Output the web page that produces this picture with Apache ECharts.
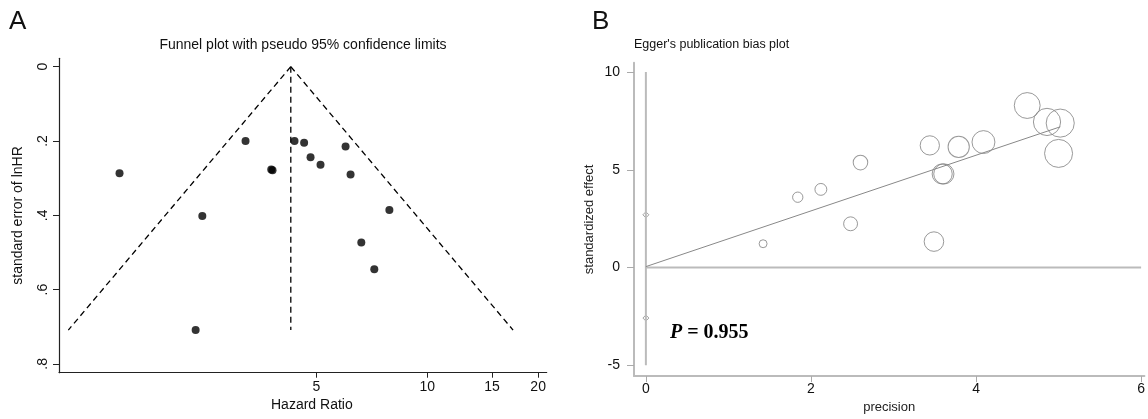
<!DOCTYPE html>
<html>
<head>
<meta charset="utf-8">
<script src="https://cdn.jsdelivr.net/npm/echarts@6/dist/echarts.min.js"></script>
<style>
  html, body { margin: 0; padding: 0; background: #fff; }
  #chart { width: 1148px; height: 419px; }
</style>
</head>
<body>
<div id="chart"></div>
<script>
// panel A - funnel plot (hazard ratio vs standard error of lnHR)
var hazardRatio = [1.46, 3.21, 3.77, 3.80, 4.36, 4.63, 4.82, 5.13, 6.00, 6.19, 7.89, 2.45, 6.62, 7.18, 2.35];
var seLnHR      = [0.287, 0.200, 0.277, 0.279, 0.200, 0.205, 0.244, 0.264, 0.215, 0.290, 0.386, 0.402, 0.473, 0.545, 0.709];
var funnelSe      = [0, 0.709];
var funnelLeftHR  = [4.26, 1.06];
var funnelRightHR = [4.26, 17.1];
var pooledHR      = [4.26, 4.26];
var hrTicks = [5, 10, 15, 20];
var seTicks = [0, 0.2, 0.4, 0.6, 0.8];

// panel B - Egger's plot
var precision = [3.49, 5.00, 3.61, 3.59, 5.02, 4.86, 4.09, 3.79, 4.62, 3.44, 2.60, 2.48, 2.12, 1.84, 1.42];
var stdEffect = [1.33, 5.84, 4.79, 4.79, 7.39, 7.45, 6.42, 6.17, 8.29, 6.25, 5.37, 2.24, 4.00, 3.60, 1.22];
var regX = [0, 5.02];
var regY = [0.05, 7.2];
var ciX = [0, 0];
var ciY = [2.7, -2.58];
var ciLineY = [10, -5];
var zeroX = [0, 6];
var zeroY = [0, 0];
var precTicks = [0, 2, 4, 6];
var effTicks = [-5, 0, 5, 10];

var FONT = 'Liberation Sans';
var chart = echarts.init(document.getElementById('chart'));

function pairs(xs, ys) {
    return xs.map(function (x, i) { return [x, ys[i]]; });
}
function lnPairs(hrs, ses) {
    return hrs.map(function (h, i) { return [Math.log(h), ses[i]]; });
}
function dashed(data) {
    return {
        type: 'line', xAxisIndex: 0, yAxisIndex: 0, data: data,
        symbol: 'none', silent: true,
        lineStyle: { color: '#000', width: 1.3, type: [6, 4] }
    };
}

var option = {
    animation: false,
    textStyle: { fontFamily: FONT },
    graphic: [
        { type: 'text', style: { text: 'A', x: 9, y: 22, verticalAlign: 'middle', font: '26px ' + FONT, fill: '#111' } },
        { type: 'text', style: { text: 'B', x: 592, y: 22, verticalAlign: 'middle', font: '26px ' + FONT, fill: '#111' } },
        { type: 'text', style: { text: 'Funnel plot with pseudo 95% confidence limits', x: 303, y: 45, align: 'center', verticalAlign: 'middle', font: '14px ' + FONT, fill: '#111' } },
        { type: 'text', style: { text: "Egger's publication bias plot", x: 634, y: 45, verticalAlign: 'middle', font: '12.5px ' + FONT, fill: '#111' } },
        { type: 'text', style: {
            text: '{p|P}{n| = 0.955}', x: 670, y: 333, verticalAlign: 'middle',
            rich: {
                p: { fontFamily: 'Liberation Serif', fontSize: 20, fontStyle: 'italic', fontWeight: 'bold', fill: '#000' },
                n: { fontFamily: 'Liberation Serif', fontSize: 20, fontWeight: 'bold', fill: '#000' }
            }
        } }
    ],
    grid: [
        { left: 59, top: 58.3, width: 487.7, height: 314.4 },
        { left: 634, top: 62.7, width: 514, height: 320 }
    ],
    xAxis: [
        {
            gridIndex: 0, type: 'value', min: 0, max: Math.log(21.1),
            name: 'Hazard Ratio', nameLocation: 'middle', nameGap: 24,
            nameTextStyle: { fontSize: 14, color: '#111', padding: [0, 0, 0, 18] },
            axisLine: { onZero: false, lineStyle: { color: '#222', width: 1.2 } },
            axisTick: { length: 5, lineStyle: { color: '#222' }, customValues: hrTicks.map(Math.log) },
            axisLabel: {
                fontSize: 14, color: '#111', margin: 7,
                customValues: hrTicks.map(Math.log),
                formatter: function (v) { return String(Math.round(Math.exp(v))); }
            },
            splitLine: { show: false }
        },
        {
            gridIndex: 1, type: 'value', min: -0.144, max: 6.04,
            name: 'precision', nameLocation: 'middle', nameGap: 20,
            nameTextStyle: { fontSize: 13, color: '#222' },
            axisLine: { onZero: false, lineStyle: { color: '#bbb', width: 2 } },
            axisTick: { length: 6, lineStyle: { color: '#aaa' }, customValues: precTicks },
            axisLabel: { fontSize: 14, color: '#111', margin: 6, customValues: precTicks },
            splitLine: { show: false }
        }
    ],
    yAxis: [
        {
            gridIndex: 0, type: 'value', inverse: true, min: -0.0226, max: 0.8237,
            name: 'standard error of lnHR', nameLocation: 'middle', nameGap: 34,
            nameTextStyle: { fontSize: 14, color: '#111' },
            axisLine: { show: true, onZero: false, lineStyle: { color: '#222', width: 1.2 } },
            axisTick: { show: true, length: 6, lineStyle: { color: '#222' }, customValues: seTicks },
            axisLabel: {
                fontSize: 14, color: '#111', rotate: 90, margin: 9,
                customValues: seTicks,
                formatter: function (v) { return v === 0 ? '0' : v.toFixed(1).replace(/^0/, ''); }
            },
            splitLine: { show: false }
        },
        {
            gridIndex: 1, type: 'value', min: -5.55, max: 10.48,
            name: 'standardized effect', nameLocation: 'middle', nameGap: 38,
            nameTextStyle: { fontSize: 13, color: '#222' },
            axisLine: { show: true, onZero: false, lineStyle: { color: '#bbb', width: 2 } },
            axisTick: { show: true, length: 7, lineStyle: { color: '#aaa' }, customValues: effTicks },
            axisLabel: { fontSize: 14, color: '#111', margin: 14, customValues: effTicks },
            splitLine: { show: false }
        }
    ],
    series: [
        dashed(lnPairs(funnelLeftHR, funnelSe)),
        dashed(lnPairs(funnelRightHR, funnelSe)),
        dashed(lnPairs(pooledHR, funnelSe)),
        {
            type: 'scatter', xAxisIndex: 0, yAxisIndex: 0,
            data: lnPairs(hazardRatio, seLnHR),
            symbol: 'circle', symbolSize: 8,
            itemStyle: { color: '#000' }
        },
        {
            type: 'line', xAxisIndex: 1, yAxisIndex: 1, data: pairs(ciX, ciLineY),
            symbol: 'none', lineStyle: { color: '#bbb', width: 2 }
        },
        {
            type: 'line', xAxisIndex: 1, yAxisIndex: 1, data: pairs(zeroX, zeroY),
            symbol: 'none', lineStyle: { color: '#bbb', width: 2 }
        },
        {
            type: 'line', xAxisIndex: 1, yAxisIndex: 1, data: pairs(regX, regY),
            symbol: 'none', lineStyle: { color: '#888', width: 1 }
        },
        {
            type: 'scatter', xAxisIndex: 1, yAxisIndex: 1, data: pairs(ciX, ciY),
            symbol: 'diamond', symbolSize: 6,
            itemStyle: { color: '#fff', borderColor: '#888', borderWidth: 1 }
        },
        {
            type: 'scatter', xAxisIndex: 1, yAxisIndex: 1, data: pairs(precision, stdEffect),
            symbol: 'circle',
            symbolSize: function (v) { return v[0] * 5.6; },
            itemStyle: { color: 'rgba(0,0,0,0)', borderColor: '#808080', borderWidth: 1 }
        }
    ]
};
chart.setOption(option);
</script>
</body>
</html>
